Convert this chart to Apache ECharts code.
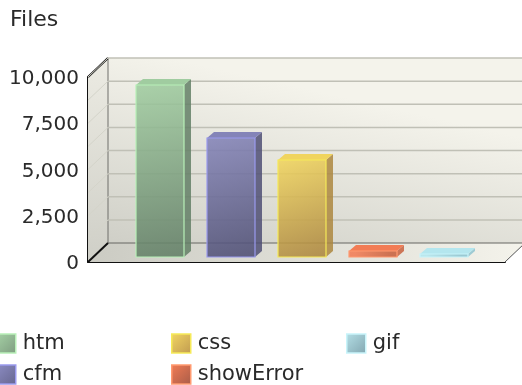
<!DOCTYPE html>
<html><head><meta charset="utf-8">
<style>html,body{margin:0;padding:0;background:#fff}#c{width:522px;height:385px}</style>
<script src="https://cdn.jsdelivr.net/npm/echarts@6/dist/echarts.min.js"></script>
</head><body><div id="c"></div>
<script>
const categories = ['htm','cfm','css','showError','gif'];
const values = [9300,6430,5240,320,150];
const gridValues = [0,1250,2500,3750,5000,6250,7500,8750,10000];
const topColors = ['#a0cca0','#8484b8','#f0d45e','#f27c55','#b4e6ee'];
const bottomColors = ['#627e66','#4e4e74','#ac863e','#c8613e','#8fc4d0'];
const edgeColors = ['#b8f0b8','#9a9aee','#f6ea58','#ff9a70','#c8f4fa'];
const legendTop = ['#a6d2a6','#8d8dc4','#f2d662','#f27c55','#b4dfe6'];
const legendBottom = ['#7e9c80','#66668f','#c09a50','#a85c48','#82a6b0'];
const font = 'DejaVu Sans';
const DX = 20, DY = 19, BX = 7, BY = 6;
const chart = echarts.init(document.getElementById('c'));
const grad = (x,y,x2,y2,a,b)=>new echarts.graphic.LinearGradient(x,y,x2,y2,[{offset:0,color:a},{offset:1,color:b}]);
function poly(points, fill, stroke){
  return {type:'polygon',shape:{points},silent:true,style:{fill,stroke:stroke||null,lineWidth:stroke?1:0}};
}
function line(x1,y1,x2,y2,stroke,w){
  return {type:'line',shape:{x1,y1,x2,y2},silent:true,style:{stroke,lineWidth:w||1}};
}
const planes = {
  type:'custom',xAxisIndex:0,yAxisIndex:0,z:1,silent:true,data:[[categories[0],0]],
  renderItem(params,api){
    const c=params.coordSys,l=c.x,r=c.x+c.width,t=c.y,b=c.y+c.height;
    return {type:'group',children:[
      poly([[l+DX,t-DY],[r+DX,t-DY],[r+DX,b-DY],[l+DX,b-DY]],grad(0.05,1,0.15,0,'#d0d0c8','#f4f3eb')),
      poly([[l,t],[l+DX,t-DY],[l+DX,b-DY],[l,b]],grad(0,0,0,1,'#ecebe3','#cfcfc7')),
      poly([[l,b],[l+DX,b-DY],[r+DX,b-DY],[r,b]],grad(0,0,1,0,'#cbcbc3','#f4f3eb')),
      line(l+DX,t-DY,l+DX,b-DY,'#6e6e6a',1),
      line(l+DX,b-DY,r+DX,b-DY,'#666662',1),
      line(l,t,l+DX,t-DY,'#111',2),
      line(l,b,l+DX,b-DY,'#111',2),
      line(r,b,r+DX,b-DY,'#555',1)
    ]};
  }
};
const gridSeries = {
  type:'custom',xAxisIndex:0,yAxisIndex:0,z:2,silent:true,
  data:gridValues.slice(1).map(v=>[categories[0],v]),
  renderItem(params,api){
    const c=params.coordSys,l=c.x,r=c.x+c.width;
    const y=api.coord([api.value(0),api.value(1)])[1];
    return {type:'group',children:[
      line(l+DX,y-DY,r+DX,y-DY,'#c0c0b6',1.5),
      line(l,y,l+DX,y-DY,'#d4d4ca',1)
    ]};
  }
};
const barSeries = categories.map((name,i)=>({
  name,type:'custom',xAxisIndex:1,yAxisIndex:1,z:5,
  itemStyle:{color:grad(0,0,1,1,legendTop[i],legendBottom[i]),borderColor:edgeColors[i],borderWidth:1.5},
  data:[[name,values[i]]],
  renderItem(params,api){
    const p=api.coord([api.value(0),api.value(1)]);
    const o=api.coord([api.value(0),0]);
    const w=api.size([1,0])[0]*0.68;
    const x0=Math.round(p[0]-w/2),x1=x0+Math.round(w),y0=Math.round(p[1]),y1=Math.round(o[1]);
    return {type:'group',children:[
      poly([[x1,y0],[x1+BX,y0-BY],[x1+BX,y1-BY],[x1,y1]],bottomColors[i]+'d8'),
      poly([[x0,y0],[x0+BX,y0-BY],[x1+BX,y0-BY],[x1,y0]],topColors[i]),
      {type:'rect',shape:{x:x0,y:y0,width:x1-x0,height:y1-y0},silent:true,
       style:{fill:grad(0.15,0,0.85,1,topColors[i]+'e0',bottomColors[i]+'e0'),stroke:edgeColors[i],lineWidth:1.2}}
    ]};
  }
}));
const legendBase = {orient:'vertical',icon:'rect',itemWidth:19,itemHeight:19,itemGap:10,selectedMode:false,
  textStyle:{fontFamily:font,fontSize:21,color:'#2a2a2a',padding:[3,0,0,2]},itemStyle:{borderWidth:1.5},padding:0};
chart.setOption({
  animation:false,backgroundColor:'#fff',
  title:{text:'Files',left:10,top:9,padding:0,textStyle:{fontFamily:font,fontSize:22,fontWeight:'normal',color:'#2a2a2a'}},
  grid:[{left:88,right:17,top:77,bottom:123},{left:124.5,width:355,top:72,height:185}],
  xAxis:[
    {gridIndex:0,type:'category',data:categories,axisLabel:{show:false},axisTick:{show:false},axisLine:{lineStyle:{color:'#111',width:2}}},
    {gridIndex:1,type:'category',data:categories,show:false}
  ],
  yAxis:[
    {gridIndex:0,type:'value',min:0,max:10000,interval:2500,splitLine:{show:false},axisTick:{show:false},
     axisLine:{show:true,lineStyle:{color:'#111',width:2}},
     axisLabel:{margin:9,fontFamily:font,fontSize:20,color:'#2a2a2a',verticalAlign:'top',lineHeight:4}},
    {gridIndex:1,type:'value',min:0,max:10000,interval:2500,show:false}
  ],
  legend:[
    Object.assign({},legendBase,{left:-4,top:333,data:['htm','cfm']}),
    Object.assign({},legendBase,{left:171,top:333,data:['css','showError']}),
    Object.assign({},legendBase,{left:346,top:333,data:['gif']})
  ],
  series:[planes,gridSeries,...barSeries]
});
</script></body></html>
